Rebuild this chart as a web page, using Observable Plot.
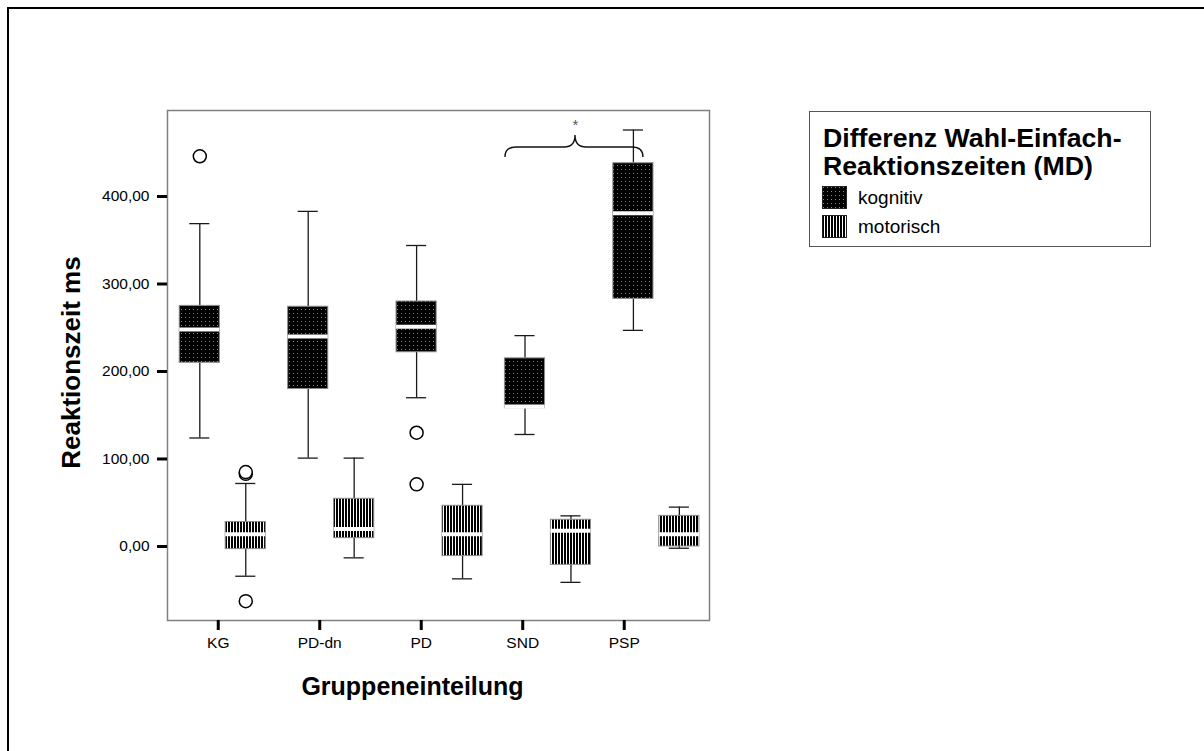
<!DOCTYPE html>
<html><head><meta charset="utf-8">
<script src="https://cdn.jsdelivr.net/npm/d3@7"></script>
<script src="https://cdn.jsdelivr.net/npm/@observablehq/plot@0.6"></script>
<style>
body{margin:0;background:#fff;font-family:"Liberation Sans",Arial,sans-serif;}
#wrap{position:relative;width:1204px;height:751px;overflow:hidden;background:#fff;}
#border{position:absolute;left:7px;top:7px;width:1400px;height:1000px;border-left:2px solid #000;border-top:2px solid #000;pointer-events:none;}
#chart{position:absolute;left:0;top:0;}
#legend{position:absolute;left:809px;top:111px;width:342px;height:136px;border:1.5px solid #555;box-sizing:border-box;background:#fff;}
#legend .t{position:absolute;left:13px;top:12px;font-size:26.7px;line-height:28px;font-weight:bold;color:#000;white-space:nowrap;}
#legend .it{position:absolute;left:48px;font-size:19px;line-height:22px;color:#000;white-space:nowrap;}
#legend svg{position:absolute;left:12px;}
</style></head>
<body>
<div id="wrap"><div id="chart"></div><div id="border"></div><div id="legend"></div></div>
<script>
// ---- data ----
const groups = ["KG", "PD-dn", "PD", "SND", "PSP"];
const series = ["kognitiv", "motorisch"];
// per group: [lower whisker, Q1, median, Q3, upper whisker]
const kognitiv = [
  [124, 210, 248, 275, 369],
  [101, 180, 240, 274, 383],
  [170, 222, 251, 280, 344],
  [128, 158, 160, 215, 241],
  [247, 283, 381, 438, 476]
];
const motorisch = [
  [-34, -3, 14, 28, 72],
  [-13, 9.5, 20, 54.5, 101],
  [-37, -11, 14, 46.5, 71],
  [-41, -21, 18, 30.5, 35],
  [-2, 0, 14, 35, 45]
];
const kognitivOutliers = [[446], [], [130, 71], [], []];
const motorischOutliers = [[83, 85, -62.5], [], [], [], []];
const yTicks = [0, 100, 200, 300, 400];
const legendTitle = ["Differenz Wahl-Einfach-", "Reaktionszeiten (MD)"];
const xTitle = "Gruppeneinteilung";
const yTitle = "Reaktionszeit ms";

// ---- layout helpers ----
const off = 0.212, bw = 0.37, cw = 0.185, shift = 0.01;
const tickStep = 0.9363; // axis ticks are drawn on a narrower band than the boxes
const rows = [];
const outs = [];
[kognitiv, motorisch].forEach((arr, s) => {
  arr.forEach((v, i) => {
    const c = i + 0.5 + shift + (s === 0 ? -off : off);
    rows.push({group: groups[i], series: series[s], c, lo: v[0], q1: v[1], med: v[2], q3: v[3], hi: v[4]});
    ([kognitivOutliers, motorischOutliers][s][i]).forEach(o => outs.push({c, v: o}));
  });
});
const kRows = rows.filter(d => d.series === "kognitiv");
const mRows = rows.filter(d => d.series === "motorisch");
const xTickPos = groups.map((g, i) => (i + 0.5) * tickStep);
const tickName = new Map(xTickPos.map((p, i) => [p, groups[i]]));
const fmt = d => d3.format(".2f")(d).replace(".", ",");

const boxMarks = (data, fill) => [
  Plot.ruleX(data, {x: "c", y1: "q3", y2: "hi", stroke: "#1a1a1a", strokeWidth: 1.3}),
  Plot.ruleX(data, {x: "c", y1: "q1", y2: "lo", stroke: "#1a1a1a", strokeWidth: 1.3}),
  Plot.ruleY(data, {y: "hi", x1: d => d.c - cw / 2, x2: d => d.c + cw / 2, stroke: "#1a1a1a", strokeWidth: 1.3}),
  Plot.ruleY(data, {y: "lo", x1: d => d.c - cw / 2, x2: d => d.c + cw / 2, stroke: "#1a1a1a", strokeWidth: 1.3}),
  Plot.rect(data, {x1: d => d.c - bw / 2, x2: d => d.c + bw / 2, y1: "q1", y2: "q3", fill, stroke: "#8a8a8a", strokeWidth: 1}),
  Plot.ruleY(data, {y: "med", x1: d => d.c - bw / 2, x2: d => d.c + bw / 2, stroke: "#fff", strokeWidth: 4})
];

const chart = Plot.plot({
  width: 1204, height: 751,
  marginLeft: 167, marginRight: 495, marginTop: 110, marginBottom: 131,
  x: {domain: [0, 5]},
  y: {domain: [-84.6, 498.3]},
  style: {fontFamily: "'Liberation Sans', Arial, sans-serif", fontSize: "15px", background: "transparent", color: "#000"},
  marks: [
    Plot.frame({stroke: "#808080", strokeWidth: 1.5}),
    Plot.axisY({ticks: yTicks, tickFormat: fmt, tickSize: 10, tickPadding: 8, strokeWidth: 3, fontSize: 15.5, label: null}),
    Plot.axisX({ticks: xTickPos, tickFormat: d => tickName.get(d), tickSize: 10, tickPadding: 6, strokeWidth: 3, fontSize: 15.5, label: null}),
    ...boxMarks(kRows, "url(#dots)"),
    ...boxMarks(mRows, "url(#stripes)"),
    Plot.dot(outs, {x: "c", y: "v", r: 6.5, stroke: "#000", strokeWidth: 1.5, fill: "#fff"}),
    Plot.text(["*"], {x: 3.764, y: 482, fontSize: 15, fill: "#555"})
  ]
});

// patterns
const svg = d3.select(chart);
const defs = svg.insert("defs", ":first-child");
const pd = defs.append("pattern").attr("id", "dots").attr("patternUnits", "userSpaceOnUse").attr("width", 4).attr("height", 4);
pd.append("rect").attr("width", 4).attr("height", 4).attr("fill", "#000");
pd.append("rect").attr("x", 1).attr("y", 1).attr("width", 1).attr("height", 1).attr("fill", "#8a8a8a");
const ps = defs.append("pattern").attr("id", "stripes").attr("patternUnits", "userSpaceOnUse").attr("width", 3).attr("height", 3);
ps.append("rect").attr("width", 3).attr("height", 3).attr("fill", "#fff");
ps.append("rect").attr("width", 2).attr("height", 3).attr("fill", "#000");

// axis titles
svg.append("text").attr("transform", "translate(80,362.5) rotate(-90)")
  .attr("text-anchor", "middle").attr("font-size", 26).attr("font-weight", "bold").attr("fill", "#000").text(yTitle);
svg.append("text").attr("x", 412.5).attr("y", 695)
  .attr("text-anchor", "middle").attr("font-size", 25).attr("font-weight", "bold").attr("fill", "#000").text(xTitle);

// curly bracket annotation (SND vs PSP, kognitiv)
const sx = chart.scale("x"), sy = chart.scale("y");
const bx = [3.118, 3.764, 4.391].map(v => sx.apply(v));
const by = [444.6, 456, 469.7].map(v => sy.apply(v));
const r = 11;
const p = d3.path();
p.moveTo(bx[0], by[0]);
p.quadraticCurveTo(bx[0], by[1], bx[0] + r, by[1]);
p.lineTo(bx[1] - r, by[1]);
p.quadraticCurveTo(bx[1], by[1], bx[1], by[2]);
p.quadraticCurveTo(bx[1], by[1], bx[1] + r, by[1]);
p.lineTo(bx[2] - r, by[1]);
p.quadraticCurveTo(bx[2], by[1], bx[2], by[0]);
svg.append("path").attr("d", p.toString()).attr("fill", "none").attr("stroke", "#111").attr("stroke-width", 1.4);

document.getElementById("chart").appendChild(chart);

// legend
const lg = d3.select("#legend");
lg.append("div").attr("class", "t").html(legendTitle.join("<br>"));
const fills = ["url(#dots)", "url(#stripes)"];
series.forEach((s, i) => {
  const top = i === 0 ? 74 : 103;
  const sw = lg.append("svg").attr("width", 25).attr("height", 23).style("top", top + "px");
  sw.append("rect").attr("x", 0.5).attr("y", 0.5).attr("width", 24).attr("height", 22).attr("fill", fills[i]).attr("stroke", "#222").attr("stroke-width", 1);
  lg.append("div").attr("class", "it").style("top", (top + 0.5) + "px").text(s);
});
</script>
</body></html>
